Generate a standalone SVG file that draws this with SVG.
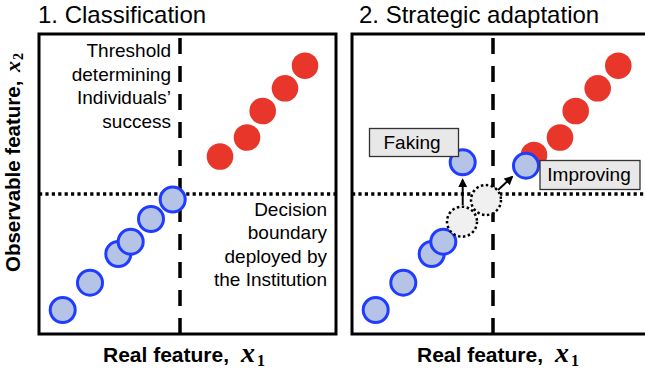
<svg xmlns="http://www.w3.org/2000/svg" width="645" height="373" viewBox="0 0 645 373">
  <defs>
    <style>
      text { font-family: "Liberation Sans", Arial, Helvetica, sans-serif; fill: #000; }
      .title { font-size: 24px; }
      .note { font-size: 19px; text-anchor: end; }
      .axis { font-size: 21px; font-weight: bold; }
      .math { font-family: "Liberation Serif", "Times New Roman", serif; font-style: italic; font-weight: bold; font-size: 28px; }
      .sub { font-family: "Liberation Serif", "Times New Roman", serif; font-size: 16px; font-weight: bold; }
      .frame { fill: none; stroke: #000; stroke-width: 3; }
      .thresh { stroke: #000; stroke-width: 3.5; stroke-dasharray: 16 12; fill: none; }
      .boundary { stroke: #000; stroke-width: 3.3; stroke-dasharray: 3.2 3.2; fill: none; }
      .neg { fill: #b4c3e6; stroke: #1f3cff; stroke-width: 3; }
      .pos { fill: #e8372a; }
      .ghost { fill: #f0f0f0; stroke: #000; stroke-width: 2.5; stroke-dasharray: 2.5 2.5; }
      .tag rect { fill: #e8e8e8; stroke: #333; stroke-width: 1.3; }
      .tag text { font-size: 19px; text-anchor: middle; }
      .move { stroke: #000; stroke-width: 2; fill: none; }
    </style>
    <marker id="head" viewBox="0 0 10 10" refX="8" refY="5" markerWidth="9" markerHeight="9" markerUnits="userSpaceOnUse" orient="auto">
      <path d="M0,0 L10,5 L0,10 z" fill="#000"/>
    </marker>
  </defs>

  <!-- panel titles -->
  <text class="title" x="38" y="23">1. Classification</text>
  <text class="title" x="359" y="23">2. Strategic adaptation</text>

  <!-- axis labels -->
  <text class="axis" style="font-size:20.5px" transform="translate(20,272) rotate(-90)">Observable feature, <tspan class="math" style="font-size:22px" dx="3">x</tspan><tspan class="sub" style="font-size:14px" dy="3" dx="1">2</tspan></text>
  <text class="axis" x="103" y="362">Real feature, <tspan class="math" dx="6">x</tspan><tspan class="sub" dy="4" dx="2">1</tspan></text>
  <text class="axis" x="417" y="362">Real feature, <tspan class="math" dx="6">x</tspan><tspan class="sub" dy="4" dx="2">1</tspan></text>

  <!-- panel 1: classification -->
  <g id="panel1">
    <rect class="frame" x="39" y="34" width="297" height="300"/>
    <line class="thresh" x1="180" y1="38" x2="180" y2="334"/>
    <line class="boundary" x1="39" y1="194" x2="336" y2="194"/>
    <text class="note" x="171" y="57">Threshold</text>
    <text class="note" x="171" y="80.5">determining</text>
    <text class="note" x="171" y="104">Individuals’</text>
    <text class="note" x="171" y="127.5">success</text>
    <text class="note" x="327" y="216">Decision</text>
    <text class="note" x="327" y="239">boundary</text>
    <text class="note" x="327" y="262.5">deployed by</text>
    <text class="note" x="327" y="286">the Institution</text>
  </g>
  <g id="p1-positive">
    <circle class="pos" cx="220" cy="156.5" r="13.3"/>
    <circle class="pos" cx="247" cy="137.5" r="13.3"/>
    <circle class="pos" cx="262.7" cy="111" r="13.3"/>
    <circle class="pos" cx="285" cy="88.3" r="13.3"/>
    <circle class="pos" cx="305" cy="65.7" r="13.3"/>
  </g>
  <g id="p1-negative">
    <circle class="neg" cx="62.7" cy="310" r="12.5"/>
    <circle class="neg" cx="90" cy="282.7" r="12.5"/>
    <circle class="neg" cx="118.3" cy="254" r="12.5"/>
    <circle class="neg" cx="130.7" cy="241.7" r="12.5"/>
    <circle class="neg" cx="151" cy="219" r="12.5"/>
    <circle class="neg" cx="172.7" cy="199.5" r="12.5"/>
  </g>

  <!-- panel 2: strategic adaptation -->
  <g id="panel2">
    <rect class="frame" x="352" y="34" width="297" height="300"/>
    <line class="thresh" x1="493" y1="38" x2="493" y2="334"/>
    <line class="boundary" x1="352" y1="194" x2="645" y2="194"/>
  </g>
  <g id="p2-positive">
    <circle class="pos" cx="534" cy="155" r="13.3"/>
    <circle class="pos" cx="560" cy="137.5" r="13.3"/>
    <circle class="pos" cx="575.7" cy="111" r="13.3"/>
    <circle class="pos" cx="597.7" cy="88.3" r="13.3"/>
    <circle class="pos" cx="618.3" cy="65.7" r="13.3"/>
  </g>
  <g id="p2-negative">
    <circle class="neg" cx="375.7" cy="310" r="12.5"/>
    <circle class="neg" cx="403.3" cy="282.7" r="12.5"/>
    <circle class="neg" cx="431.7" cy="254" r="12.5"/>
    <circle class="neg" cx="443.3" cy="241.7" r="12.5"/>
  </g>
  <g id="p2-original">
    <circle class="ghost" cx="462" cy="221.7" r="15"/>
    <circle class="ghost" cx="486" cy="200" r="15"/>
  </g>
  <g id="p2-faked">
    <circle class="neg" cx="462.7" cy="162.3" r="12.5"/>
  </g>
  <g id="p2-improved">
    <circle class="neg" cx="526" cy="165.7" r="12.5"/>
  </g>

  <!-- strategic moves -->
  <g id="connectors">
    <line class="move" x1="462.7" y1="205" x2="462.7" y2="180" marker-end="url(#head)"/>
    <line class="move" x1="498" y1="190" x2="512" y2="177" marker-end="url(#head)"/>
  </g>

  <g id="tag-faking" class="tag">
    <rect x="369.5" y="128.5" width="89" height="28"/>
    <text x="412" y="148.5">Faking</text>
  </g>
  <g id="tag-improving" class="tag">
    <rect x="540" y="160.5" width="100" height="29"/>
    <text x="589" y="181">Improving</text>
  </g>
</svg>
